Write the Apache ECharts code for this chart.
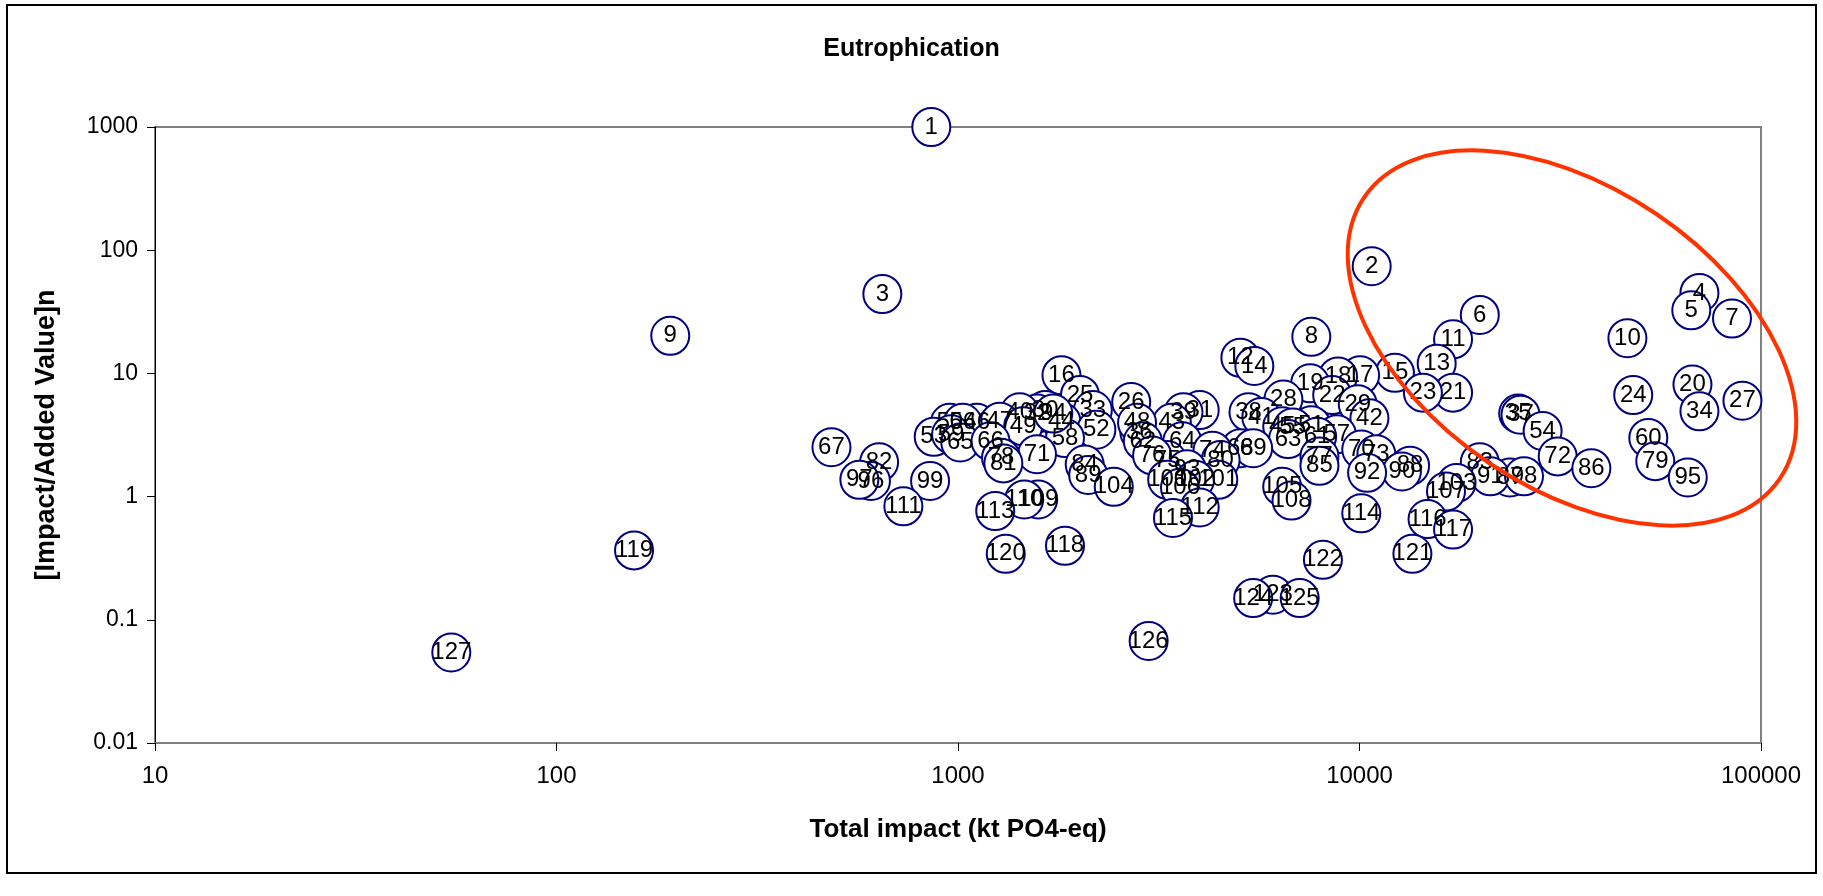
<!DOCTYPE html>
<html>
<head>
<meta charset="utf-8">
<script src="https://cdn.jsdelivr.net/npm/echarts@6/dist/echarts.min.js"></script>
<style>
html,body{margin:0;padding:0;background:#fff;}
#chart{width:1823px;height:896px;}
</style>
</head>
<body>
<div id="chart"></div>
<script>
const pointIds = [
  1,2,3,4,5,6,7,8,9,10,11,12,13,14,15,16,17,18,19,20,
  21,22,23,24,25,26,27,28,29,30,31,32,33,34,35,36,37,38,39,40,
  41,42,43,44,45,46,47,48,49,50,51,52,53,54,55,56,57,58,59,60,
  61,62,63,64,65,66,67,68,69,70,71,72,73,74,75,76,77,78,79,80,
  81,82,83,84,85,86,87,88,89,90,91,92,93,94,95,96,97,98,99,100,
  101,102,103,104,105,106,107,108,109,110,111,112,113,114,115,116,117,118,119,120,
  121,122,123,124,125,126,127
];
const totalImpact = [
  858,10725,648,70251,67042,19935,84677,7585,192,46478,17100,5050,15569,5471,12255,1810,10035,8841,7534,67493,
  17100,8551,14385,48057,2013,2700,89900,6463,9901,1649,4000,1573,2167,70251,24844,2829,25178,5291,3644,1424,
  5694,10585,3409,1810,6420,1113,1271,2792,1453,954,7585,2211,870,28580,6817,1027,8782,1847,961,52398,
  7842,2886,6637,3619,1013,1205,484,5050,5434,10102,1573,31161,11015,4303,3319,3044,7947,1280,54538,4509,
  1297,636,19935,2068,7947,37798,23710,13366,2110,12755,21170,10445,3718,1727,65712,607,568,25687,852,3319,
  4449,3895,17446,2443,6420,3572,16422,6771,1584,1462,731,4000,1238,10102,3431,14773,17100,1847,156,1315,
  13544,8108,6085,5434,7096,2984,54.7
];
const impactPerValue = [
  1000,74.2,44.1,45.0,32.5,29.8,27.9,19.8,20.2,19.3,18.9,13.4,12.0,11.5,10.1,9.66,9.66,9.45,8.30,8.12,
  6.98,6.68,6.98,6.68,6.68,5.87,6.00,6.13,5.62,5.04,5.04,4.72,5.04,4.93,4.72,3.34,4.62,4.83,4.83,4.83,
  4.42,4.33,3.97,4.06,3.72,3.97,4.06,3.97,3.72,3.97,3.80,3.49,3.06,3.41,3.64,3.97,3.20,2.99,3.20,2.99,
  3.06,2.81,2.93,2.81,2.75,2.81,2.52,2.47,2.47,2.41,2.21,2.12,2.21,2.36,1.98,2.16,2.12,2.07,1.94,1.98,
  1.86,1.90,1.90,1.82,1.78,1.70,1.43,1.78,1.50,1.60,1.46,1.56,1.67,4.72,1.43,1.34,1.37,1.46,1.34,1.37,
  1.37,1.37,1.29,1.20,1.20,1.18,1.10,0.929,0.949,0.949,0.834,0.816,0.764,0.732,0.671,0.657,0.540,0.399,0.366,0.343,
  0.343,0.307,0.160,0.150,0.150,0.0674,0.0543
];
const xTickValues = [10,100,1000,10000,100000];
const xTickLabels = ['10','100','1000','10000','100000'];
const yTickValues = [0.01,0.1,1,10,100,1000];
const yTickLabels = ['0.01','0.1','1','10','100','1000'];

function nearestLabel(v, vals, labels){
  let best = 0, bd = Infinity;
  for (let i = 0; i < vals.length; i++) {
    const d = Math.abs(Math.log10(v) - Math.log10(vals[i]));
    if (d < bd) { bd = d; best = i; }
  }
  return labels[best];
}

const seriesData = pointIds.map((id, i) => [totalImpact[i], impactPerValue[i], id]);
const FONT = "'Liberation Sans', Arial, sans-serif";

const chart = echarts.init(document.getElementById('chart'), null, {renderer: 'canvas'});
chart.setOption({
  backgroundColor: '#ffffff',
  animation: false,
  title: {
    text: 'Eutrophication',
    left: 'center',
    top: 32,
    textStyle: {fontFamily: FONT, fontSize: 25, fontWeight: 'bold', color: '#000'}
  },
  grid: {
    left: 155, right: 62, top: 127, bottom: 153,
    show: true, borderColor: '#808080', borderWidth: 2, backgroundColor: 'transparent'
  },
  xAxis: {
    type: 'log', logBase: 10, min: 10, max: 100000,
    name: 'Total impact (kt PO4-eq)',
    nameLocation: 'middle', nameGap: 74,
    nameTextStyle: {fontFamily: FONT, fontSize: 26, fontWeight: 'bold', color: '#000'},
    axisLine: {show: true, lineStyle: {color: '#808080', width: 2}},
    axisTick: {show: true, inside: false, length: 8, lineStyle: {color: '#000', width: 1}},
    minorTick: {show: false},
    splitLine: {show: false},
    axisLabel: {
      margin: 21, fontFamily: FONT, fontSize: 24, color: '#000',
      formatter: v => nearestLabel(v, xTickValues, xTickLabels)
    }
  },
  yAxis: {
    type: 'log', logBase: 10, min: 0.01, max: 1000,
    name: '[Impact/Added Value]n',
    nameLocation: 'middle', nameGap: 95, nameRotate: 90,
    nameTextStyle: {fontFamily: FONT, fontSize: 27, fontWeight: 'bold', color: '#000'},
    axisLine: {show: true, lineStyle: {color: '#000', width: 1}},
    axisTick: {show: true, inside: false, length: 8, lineStyle: {color: '#000', width: 1}},
    splitLine: {show: false},
    axisLabel: {
      margin: 17, fontFamily: FONT, fontSize: 23, color: '#000',
      formatter: v => nearestLabel(v, yTickValues, yTickLabels)
    }
  },
  series: [{
    type: 'scatter',
    clip: false,
    data: seriesData,
    symbol: 'circle',
    symbolSize: 38,
    itemStyle: {color: '#ffffff', borderColor: '#000080', borderWidth: 2, opacity: 1},
    label: {
      show: true, position: 'inside',
      formatter: p => String(p.data[2]),
      fontFamily: FONT, fontSize: 24, color: '#000'
    },
    emphasis: {disabled: true}
  }],
  graphic: [
    {
      type: 'rect', z: 100, silent: true,
      shape: {x: 7, y: 5, width: 1809, height: 868},
      style: {fill: 'none', stroke: '#000', lineWidth: 2}
    },
    {
      type: 'ellipse', z: 100, silent: true,
      x: 1572, y: 338, rotation: -0.595,
      shape: {cx: 0, cy: 0, rx: 251, ry: 150},
      style: {fill: 'none', stroke: '#FF3300', lineWidth: 4}
    }
  ]
});
</script>
</body>
</html>
